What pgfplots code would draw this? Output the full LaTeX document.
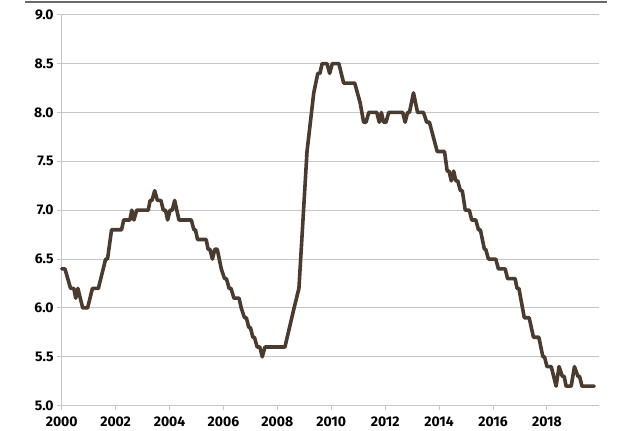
\documentclass[border=0pt]{standalone}
\usepackage{fontspec}
\setmainfont{Fira Sans}
\usepackage{pgfplots}
\pgfplotsset{compat=1.18}
\definecolor{linebrown}{HTML}{4B3B2F}
\definecolor{gridgray}{HTML}{C6C6C6}
\definecolor{topgray}{HTML}{6A6A6A}
\begin{document}
\begin{tikzpicture}
\begin{axis}[
    scale only axis,
    width=537pt, height=391pt,
    at={(0,0)}, anchor=south west,
    xmin=2000, xmax=2019.92,
    ymin=5, ymax=9,
    xtick={2000,2002,...,2018},
    ytick={5,5.5,...,9},
    axis x line*=bottom,
    axis y line*=left,
    axis line style={draw=gridgray, line width=0.9pt},
    tick align=outside,
    major tick length=4.5pt,
    x tick style={draw=gridgray, line width=0.9pt},
    ytick style={draw=gridgray, line width=0.9pt},
    ymajorgrids=true,
    grid style={draw=gridgray, line width=0.9pt},
    tick label style={font=\fontsize{14}{16}\selectfont\bfseries, text=black},
    /pgf/number format/assume math mode=true,
    xticklabel style={/pgf/number format/1000 sep={}, yshift=-3pt},
    yticklabel style={/pgf/number format/.cd, fixed, fixed zerofill, precision=1},
    clip=false,
]
\addplot[linebrown, line width=3.6pt, line join=round, line cap=round] coordinates {
(2000.00,6.4) (2000.12,6.4) (2000.33,6.2) (2000.45,6.2) (2000.52,6.1) (2000.60,6.2)
(2000.78,6.0) (2000.96,6.0) (2001.14,6.2) (2001.36,6.2) (2001.63,6.5) (2001.70,6.5)
(2001.85,6.8) (2002.22,6.8) (2002.30,6.9) (2002.53,6.9) (2002.60,7.0) (2002.68,6.9)
(2002.78,7.0) (2003.21,7.0) (2003.28,7.1) (2003.35,7.1) (2003.45,7.2) (2003.55,7.1)
(2003.68,7.1) (2003.77,7.0) (2003.85,7.0) (2003.93,6.9) (2004.02,7.0) (2004.10,7.0)
(2004.19,7.1) (2004.35,6.9) (2004.81,6.9) (2004.90,6.8) (2004.96,6.8) (2005.04,6.7)
(2005.36,6.7) (2005.43,6.6) (2005.50,6.6) (2005.59,6.5) (2005.68,6.6) (2005.77,6.6)
(2005.92,6.4) (2006.04,6.3) (2006.11,6.3) (2006.21,6.2) (2006.28,6.2) (2006.39,6.1)
(2006.58,6.1) (2006.66,6.0) (2006.78,5.9) (2006.85,5.9) (2006.94,5.8) (2007.00,5.8)
(2007.09,5.7) (2007.15,5.7) (2007.25,5.6) (2007.35,5.6) (2007.44,5.5) (2007.54,5.6)
(2008.28,5.6) (2008.62,6.0) (2008.80,6.2) (2009.10,7.6) (2009.35,8.2) (2009.50,8.4)
(2009.58,8.4) (2009.66,8.5) (2009.84,8.5) (2009.94,8.4) (2010.04,8.5) (2010.28,8.5)
(2010.46,8.3) (2010.87,8.3) (2011.07,8.1) (2011.20,7.9) (2011.29,7.9) (2011.39,8.0)
(2011.69,8.0) (2011.78,7.9) (2011.86,8.0) (2011.94,7.9) (2012.03,7.9) (2012.13,8.0)
(2012.65,8.0) (2012.74,7.9) (2012.83,8.0) (2012.90,8.0) (2013.05,8.2) (2013.20,8.0)
(2013.42,8.0) (2013.54,7.9) (2013.64,7.9) (2013.93,7.6) (2014.20,7.6) (2014.30,7.4)
(2014.37,7.4) (2014.45,7.3) (2014.54,7.4) (2014.62,7.3) (2014.69,7.3) (2014.79,7.2)
(2014.86,7.2) (2014.97,7.0) (2015.12,7.0) (2015.21,6.9) (2015.36,6.9) (2015.46,6.8)
(2015.53,6.8) (2015.68,6.6) (2015.73,6.6) (2015.83,6.5) (2016.10,6.5) (2016.20,6.4)
(2016.45,6.4) (2016.54,6.3) (2016.82,6.3) (2016.89,6.2) (2016.96,6.2) (2017.16,5.9)
(2017.34,5.9) (2017.50,5.7) (2017.70,5.7) (2017.85,5.5) (2017.91,5.5) (2018.00,5.4)
(2018.16,5.4) (2018.34,5.2) (2018.45,5.4) (2018.57,5.3) (2018.64,5.3) (2018.71,5.2)
(2018.90,5.2) (2019.02,5.4) (2019.15,5.3) (2019.21,5.3) (2019.30,5.2) (2019.75,5.2)
};
\end{axis}
% top rule of the figure frame
\draw[topgray, line width=1.1pt] (-36.7pt,403.7pt) -- (545.3pt,403.7pt);
\useasboundingbox (-61.7pt,-25.3pt) rectangle (563.3pt,405.7pt);
\end{tikzpicture}
\end{document}
